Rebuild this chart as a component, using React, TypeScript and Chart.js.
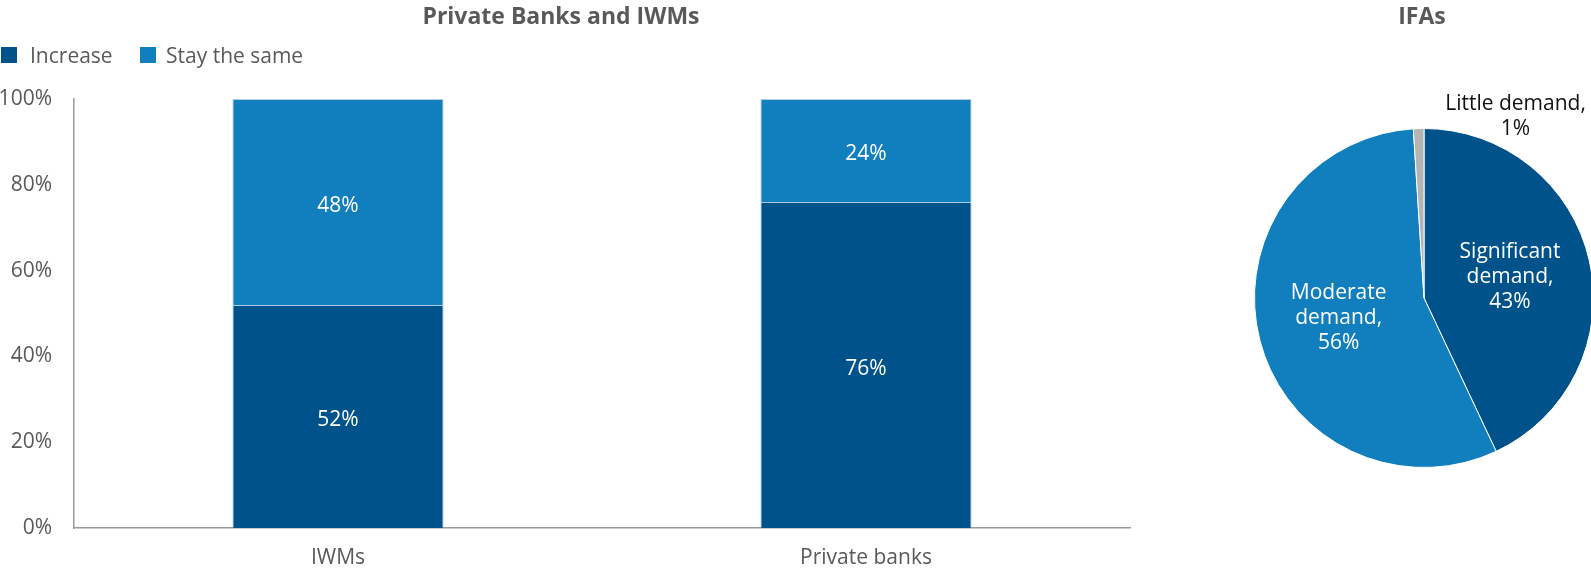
import React, { useEffect, useRef } from "react";
import { Chart, registerables } from "chart.js";

Chart.register(...registerables);

const FONT = "'Open Sans', 'Noto Sans', sans-serif";
const TEXT_GRAY = "#595959";
const DARK_BLUE = "#00528A";
const LIGHT_BLUE = "#117EBD";
const GRAY = "#B4B4B4";

// Bar chart data
const barTitle = "Private Banks and IWMs";
const barCategories = ["IWMs", "Private banks"];
const seriesNames = ["Increase", "Stay the same"];
const increaseValues = [52, 76];
const stayValues = [48, 24];
const yTicks = [0, 20, 40, 60, 80, 100];

// Pie chart data
const pieTitle = "IFAs";
const pieLabels = [
  ["Significant", "demand,", "43%"],
  ["Moderate", "demand,", "56%"],
  ["Little demand,", "1%"],
];
const pieValues = [43, 56, 1];
const pieOutside = [false, false, true];

const barLabelPlugin = {
  id: "barLabels",
  afterDatasetsDraw(chart: any) {
    const ctx = chart.ctx;
    ctx.save();
    ctx.font = `21px ${FONT}`;
    ctx.fillStyle = "#ffffff";
    ctx.textAlign = "center";
    ctx.textBaseline = "middle";
    chart.data.datasets.forEach((ds: any, di: number) => {
      const meta = chart.getDatasetMeta(di);
      meta.data.forEach((el: any, i: number) => {
        const v = ds.data[i];
        const y = (el.y + el.base) / 2 + 4;
        ctx.fillText(`${v}%`, el.x, y);
      });
    });
    ctx.restore();
  },
};

const pieLabelPlugin = {
  id: "pieLabels",
  afterDatasetsDraw(chart: any) {
    const ctx = chart.ctx;
    const meta = chart.getDatasetMeta(0);
    ctx.save();
    ctx.font = `21px ${FONT}`;
    ctx.textAlign = "center";
    ctx.textBaseline = "middle";
    const lh = 25;
    meta.data.forEach((arc: any, i: number) => {
      const lines = pieLabels[i];
      const p = arc.getProps(["x", "y", "startAngle", "endAngle", "outerRadius"], true);
      let cx: number, cy: number;
      if (pieOutside[i]) {
        ctx.fillStyle = "#111111";
        cx = p.x + p.outerRadius * 0.54;
        cy = p.y - p.outerRadius - 12;
      } else {
        ctx.fillStyle = "#ffffff";
        const mid = (p.startAngle + p.endAngle) / 2;
        const r = p.outerRadius * 0.52;
        cx = p.x + Math.cos(mid) * r;
        cy = p.y + Math.sin(mid) * r - 2;
      }
      const startY = cy - ((lines.length - 1) * lh) / 2;
      lines.forEach((t, k) => ctx.fillText(t, cx, startY + k * lh));
    });
    ctx.restore();
  },
};

export default function App() {
  const barRef = useRef<HTMLCanvasElement>(null);
  const pieRef = useRef<HTMLCanvasElement>(null);

  useEffect(() => {
    const bar = new Chart(barRef.current as HTMLCanvasElement, {
      type: "bar",
      data: {
        labels: barCategories,
        datasets: [
          {
            label: seriesNames[0],
            data: increaseValues,
            backgroundColor: DARK_BLUE,
            borderColor: "rgba(120,170,210,0.6)",
            borderWidth: 1,
            barPercentage: 0.4,
            categoryPercentage: 1,
          },
          {
            label: seriesNames[1],
            data: stayValues,
            backgroundColor: LIGHT_BLUE,
            borderColor: "rgba(120,170,210,0.6)",
            borderWidth: 1,
            barPercentage: 0.4,
            categoryPercentage: 1,
          },
        ],
      },
      options: {
        animation: false,
        responsive: false,
        maintainAspectRatio: false,
        layout: { padding: { top: 99, right: 10, left: 0, bottom: 0 } },
        plugins: {
          legend: { display: false },
          title: { display: false },
          tooltip: { enabled: false },
        },
        scales: {
          x: {
            stacked: true,
            grid: { display: false, drawTicks: false },
            border: { display: true, color: "#9a9a9a", width: 1.5 },
            ticks: { color: TEXT_GRAY, font: { family: FONT, size: 21 }, padding: 17 },
            afterFit: (s: any) => {
              s.height = 41;
            },
          },
          y: {
            stacked: true,
            min: 0,
            max: 100,
            grid: { display: false, drawTicks: false },
            border: { display: true, color: "#9a9a9a", width: 1.5 },
            afterBuildTicks: (s: any) => {
              s.ticks = yTicks.map((v) => ({ value: v }));
            },
            ticks: {
              color: TEXT_GRAY,
              font: { family: FONT, size: 21 },
              padding: 22,
              callback: (v: any) => `${v}%`,
            },
            afterFit: (s: any) => {
              s.width = 74;
            },
          },
        },
      },
      plugins: [barLabelPlugin],
    });

    const pie = new Chart(pieRef.current as HTMLCanvasElement, {
      type: "pie",
      data: {
        labels: pieLabels.map((l) => l.join(" ")),
        datasets: [
          {
            data: pieValues,
            backgroundColor: [DARK_BLUE, LIGHT_BLUE, GRAY],
            borderColor: "#ffffff",
            borderWidth: 1,
          },
        ],
      },
      options: {
        animation: false,
        responsive: false,
        maintainAspectRatio: false,
        layout: { padding: { top: 128, bottom: 101, left: 10, right: 10 } },
        plugins: {
          legend: { display: false },
          title: { display: false },
          tooltip: { enabled: false },
        },
      },
      plugins: [pieLabelPlugin],
    });

    return () => {
      bar.destroy();
      pie.destroy();
    };
  }, []);

  const titleStyle: React.CSSProperties = {
    position: "absolute",
    top: 2,
    fontFamily: FONT,
    fontWeight: 700,
    fontSize: 23,
    lineHeight: "26px",
    color: TEXT_GRAY,
    whiteSpace: "nowrap",
    transform: "translateX(-50%)",
  };
  const legendText: React.CSSProperties = {
    position: "absolute",
    top: 43,
    fontFamily: FONT,
    fontSize: 21,
    lineHeight: "24px",
    color: TEXT_GRAY,
    whiteSpace: "nowrap",
  };
  const box = (color: string, left: number): React.CSSProperties => ({
    position: "absolute",
    left,
    top: 47,
    width: 16,
    height: 16,
    background: color,
  });

  return (
    <div
      style={{
        position: "absolute",
        left: 0,
        top: 0,
        width: 1591,
        height: 569,
        overflow: "hidden",
        background: "#ffffff",
      }}
    >
      <canvas
        ref={barRef}
        width={1140}
        height={569}
        style={{ position: "absolute", left: 0, top: 0, width: 1140, height: 569 }}
      />
      <canvas
        ref={pieRef}
        width={360}
        height={569}
        style={{ position: "absolute", left: 1244, top: 0, width: 360, height: 569 }}
      />
      <div style={{ ...titleStyle, left: 561 }}>{barTitle}</div>
      <div style={{ ...titleStyle, left: 1422 }}>{pieTitle}</div>
      <div style={box(DARK_BLUE, 1)} />
      <div style={{ ...legendText, left: 30 }}>{seriesNames[0]}</div>
      <div style={box(LIGHT_BLUE, 140)} />
      <div style={{ ...legendText, left: 166 }}>{seriesNames[1]}</div>
    </div>
  );
}
